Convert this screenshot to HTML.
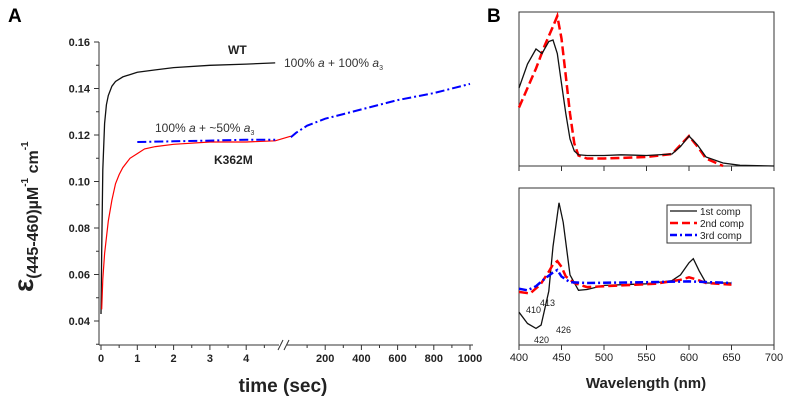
<!DOCTYPE html>
<html><head><meta charset="utf-8"><style>
html,body{margin:0;padding:0;background:#fff;}
svg{display:block;font-family:"Liberation Sans",Arial,sans-serif;}
</style></head><body>
<svg id="fig" width="789" height="404" viewBox="0 0 789 404" xmlns="http://www.w3.org/2000/svg">
<text x="8" y="22" font-size="19" font-weight="bold">A</text>
<text x="487" y="22" font-size="19" font-weight="bold">B</text>
<g id="pa"></g>
<g id="pb"></g>
</svg>
<script>
// Panel A data
const yTicksA = [0.04,0.06,0.08,0.10,0.12,0.14,0.16];
const xTicksA1 = [0,1,2,3,4];
const xTicksA2 = [200,400,600,800,1000];
const wtT = [0,0.02,0.05,0.1,0.15,0.2,0.3,0.4,0.6,0.8,1,1.5,2,3,4,4.8];
const wtY = [0.043,0.07,0.105,0.125,0.133,0.137,0.141,0.143,0.145,0.146,0.147,0.148,0.149,0.150,0.1505,0.151];
const kT = [0.02,0.05,0.1,0.2,0.3,0.4,0.5,0.6,0.8,1,1.2,1.5,2,3,4,4.8];
const kY = [0.045,0.058,0.069,0.083,0.092,0.099,0.103,0.106,0.110,0.112,0.114,0.115,0.116,0.117,0.117,0.1175];
const b1T = [1,2,3,4,4.8];
const b1Y = [0.117,0.1173,0.1176,0.118,0.118];
const b2T = [10,40,100,200,300,400,600,800,1000];
const b2Y = [0.119,0.121,0.124,0.127,0.129,0.131,0.135,0.138,0.142];
// Panel B data
const xTicksB = [400,450,500,550,600,650,700];
const t1W = [400,410,420,427,435,440,445,450,455,460,465,470,480,500,520,550,580,590,600,610,620,640,660,700];
const t1Y = [0.52,0.68,0.78,0.75,0.83,0.84,0.75,0.55,0.35,0.18,0.10,0.075,0.07,0.07,0.075,0.07,0.08,0.13,0.2,0.14,0.06,0.02,0.005,0.0];
const t2W = [400,410,420,430,440,445,450,455,460,465,470,480,500,550,580,590,600,610,620,640];
const t2Y = [0.39,0.52,0.65,0.80,0.93,1.0,0.85,0.6,0.35,0.15,0.07,0.05,0.05,0.06,0.08,0.14,0.2,0.13,0.05,0.0];
const c1W = [400,410,420,426,435,440,447,452,460,470,480,500,550,580,590,600,605,612,620,650];
const c1Y = [-0.36,-0.50,-0.56,-0.52,-0.1,0.45,0.99,0.75,0.1,-0.09,-0.08,-0.03,-0.01,0.03,0.1,0.25,0.30,0.15,0.0,0.0];
const c2W = [400,413,425,435,440,445,450,455,465,480,520,560,590,600,610,620,650];
const c2Y = [-0.11,-0.13,-0.02,0.14,0.23,0.27,0.2,0.08,0.0,-0.05,-0.03,-0.01,0.04,0.07,0.04,0.0,-0.02];
const c3W = [400,410,420,430,440,445,450,460,480,550,600,650];
const c3Y = [-0.07,-0.09,-0.04,0.05,0.13,0.16,0.08,0.01,0.0,0.01,0.02,0.0];

const NS="http://www.w3.org/2000/svg";
function mk(p,tag,attrs){const e=document.createElementNS(NS,tag);for(const k in attrs)e.setAttribute(k,attrs[k]);p.appendChild(e);return e;}
const pa=document.getElementById('pa'), pb=document.getElementById('pb');

// Panel A axes
const yA=v=>42+(0.16-v)/0.02*46.5;
const xA1=t=>101+36.3*t;
const xA2=t=>289+0.181*t;
function pathA(xs,ys,fx){return xs.map((t,i)=>(i?'L':'M')+fx(t).toFixed(1)+','+yA(ys[i]).toFixed(1)).join('');}
let e;
e=mk(pa,'line',{x1:99,y1:42,x2:99,y2:345,stroke:'#333','stroke-width':1});

e=mk(pa,'path',{d:'M99,345H279M287,345H473',stroke:'#333','stroke-width':1,fill:'none'});

e=mk(pa,'path',{d:'M278,350L283,340M284,350L289,340',stroke:'#333','stroke-width':1,fill:'none'});

yTicksA.forEach(v=>{
  mk(pa,'line',{x1:99,x2:94,y1:yA(v),y2:yA(v),stroke:'#333'});
  mk(pa,'line',{x1:99,x2:96,y1:yA(v-0.01),y2:yA(v-0.01),stroke:'#333'});
  e=mk(pa,'text',{x:90,y:yA(v)+4,'font-size':11,'font-weight':'bold','text-anchor':'end',fill:'#222'});e.textContent=v.toFixed(2);
  
});
xTicksA1.forEach(t=>{
  mk(pa,'line',{x1:xA1(t),x2:xA1(t),y1:345,y2:350,stroke:'#333'});
  mk(pa,'line',{x1:xA1(t+0.5),x2:xA1(t+0.5),y1:345,y2:348,stroke:'#333'});
  e=mk(pa,'text',{x:xA1(t),y:362,'font-size':11,'font-weight':'bold','text-anchor':'middle',fill:'#222'});e.textContent=t;
  
});
xTicksA2.forEach(t=>{
  mk(pa,'line',{x1:xA2(t),x2:xA2(t),y1:345,y2:350,stroke:'#333'});
  mk(pa,'line',{x1:xA2(t-100),x2:xA2(t-100),y1:345,y2:348,stroke:'#333'});
  e=mk(pa,'text',{x:xA2(t),y:362,'font-size':11,'font-weight':'bold','text-anchor':'middle',fill:'#222'});e.textContent=t;
  
});
e=mk(pa,'text',{x:283,y:392,'font-size':19,'font-weight':'bold','text-anchor':'middle',fill:'#222'});e.textContent='time (sec)';

e=mk(pa,'text',{x:0,y:0,'font-size':18,'font-weight':'bold',fill:'#222',transform:'translate(33,292) rotate(-90)'});
e.innerHTML='<tspan font-size="28">ε</tspan><tspan dy="5" font-size="16">(445-460)</tspan><tspan font-size="16">µM</tspan><tspan dy="-10" font-size="10">-1</tspan><tspan dy="10" font-size="16"> cm</tspan><tspan dy="-10" font-size="10">-1</tspan>';

e=mk(pa,'path',{d:pathA(wtT,wtY,xA1),stroke:'#111','stroke-width':1.3,fill:'none'});

e=mk(pa,'path',{d:pathA(kT,kY,xA1)+'L'+(xA2(10)).toFixed(1)+','+yA(0.1195).toFixed(1),stroke:'#f00','stroke-width':1.2,fill:'none'});

e=mk(pa,'path',{d:pathA(b1T,b1Y,xA1),stroke:'#00f','stroke-width':2,fill:'none','stroke-dasharray':'9,3,2,3'});

e=mk(pa,'path',{d:pathA(b2T,b2Y,xA2),stroke:'#00f','stroke-width':2,fill:'none','stroke-dasharray':'9,3,2,3'});

e=mk(pa,'text',{x:228,y:54,'font-size':12,'font-weight':'bold',fill:'#222'});e.textContent='WT';

e=mk(pa,'text',{x:214,y:164,'font-size':12,'font-weight':'bold',fill:'#222'});e.textContent='K362M';

e=mk(pa,'text',{x:284,y:67,'font-size':12,fill:'#333'});e.innerHTML='100% <tspan font-style="italic">a</tspan> + 100% <tspan font-style="italic">a</tspan><tspan font-size="7" dy="3">3</tspan>';

e=mk(pa,'text',{x:155,y:132,'font-size':12,fill:'#333'});e.innerHTML='100% <tspan font-style="italic">a</tspan> + ~50% <tspan font-style="italic">a</tspan><tspan font-size="7" dy="3">3</tspan>';


// Panel B
const xB=w=>519+(w-400)/50*42.5;
const yT=v=>166-v*150;
const yBm=v=>283-v*81;
function pathB(xs,ys,fy){return xs.map((w,i)=>(i?'L':'M')+xB(w).toFixed(1)+','+fy(ys[i]).toFixed(1)).join('');}
e=mk(pb,'rect',{x:519,y:12,width:255,height:154,fill:'none',stroke:'#333'});

e=mk(pb,'rect',{x:519,y:188,width:255,height:157,fill:'none',stroke:'#333'});

xTicksB.forEach(w=>{
  mk(pb,'line',{x1:xB(w),x2:xB(w),y1:166,y2:171,stroke:'#333'});
  mk(pb,'line',{x1:xB(w),x2:xB(w),y1:345,y2:350,stroke:'#333'});
  e=mk(pb,'text',{x:xB(w),y:361,'font-size':11,'text-anchor':'middle',fill:'#222'});e.textContent=w;
  
});
e=mk(pb,'text',{x:646,y:388,'font-size':15,'font-weight':'bold','text-anchor':'middle',fill:'#222'});e.textContent='Wavelength (nm)';

e=mk(pb,'path',{d:pathB(t2W,t2Y,yT),stroke:'#f00','stroke-width':2.5,fill:'none','stroke-dasharray':'9,4'});

e=mk(pb,'path',{d:pathB(t1W,t1Y,yT),stroke:'#111','stroke-width':1.3,fill:'none'});

e=mk(pb,'path',{d:pathB(c1W,c1Y,yBm),stroke:'#111','stroke-width':1.3,fill:'none'});

e=mk(pb,'path',{d:pathB(c2W,c2Y,yBm),stroke:'#f00','stroke-width':2.5,fill:'none','stroke-dasharray':'9,4'});

e=mk(pb,'path',{d:pathB(c3W,c3Y,yBm),stroke:'#00f','stroke-width':2.5,fill:'none','stroke-dasharray':'8,3,2,3'});

[['410',526,313],['413',540,306],['420',534,343],['426',556,333]].forEach(a=>{
  e=mk(pb,'text',{x:a[1],y:a[2],'font-size':9,fill:'#222'});e.textContent=a[0];
  
});
e=mk(pb,'rect',{x:667,y:205,width:84,height:38,fill:'#fff',stroke:'#333'});

[['1st comp','#111','none',1.3],['2nd comp','#f00','8,4',2.5],['3rd comp','#00f','7,3,2,3',2.5]].forEach((l,i)=>{
  const y=211+i*12;
  e=mk(pb,'line',{x1:670,x2:697,y1:y,y2:y,stroke:l[1],'stroke-width':l[3],'stroke-dasharray':l[2]});
  
  e=mk(pb,'text',{x:700,y:y+4,'font-size':10,fill:'#222'});e.textContent=l[0];
  
});
</script>
</body></html>
